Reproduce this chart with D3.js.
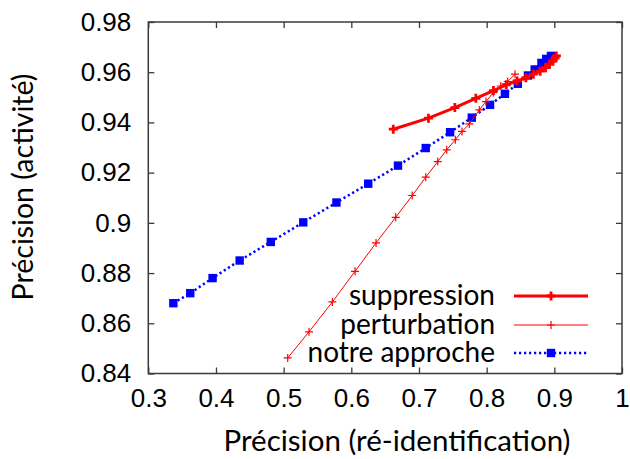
<!DOCTYPE html>
<html>
<head>
<meta charset="utf-8">
<script src="https://cdn.jsdelivr.net/npm/d3@7"></script>
<style>
  body { margin: 0; background: #fff; }
  .tick text { font-family: "Liberation Sans", Arial, sans-serif; }
</style>
</head>
<body>
<div id="chart"></div>
<script>
//Data
var suppressionX = [0.662, 0.714, 0.753, 0.784, 0.810, 0.829, 0.845, 0.858, 0.869, 0.879, 0.887, 0.893, 0.898, 0.901, 0.903];
var suppressionY = [0.9373, 0.9417, 0.9459, 0.9496, 0.9527, 0.9550, 0.9565, 0.9578, 0.9592, 0.9604, 0.9618, 0.9632, 0.9645, 0.9656, 0.9665];

var perturbationX = [0.506, 0.5375, 0.572, 0.6055, 0.6365, 0.6656, 0.690, 0.710, 0.7277, 0.741, 0.7537, 0.7636, 0.7744, 0.7891, 0.799, 0.8098, 0.8208, 0.8311, 0.8419];
var perturbationY = [0.8462, 0.8566, 0.8685, 0.8807, 0.892, 0.9022, 0.9109, 0.9182, 0.9244, 0.9291, 0.9331, 0.9364, 0.9394, 0.945, 0.9483, 0.9519, 0.9545, 0.9563, 0.9592];

var approcheX = [0.337, 0.362, 0.395, 0.435, 0.481, 0.529, 0.578, 0.625, 0.669, 0.710, 0.746, 0.778, 0.805, 0.827, 0.846, 0.861, 0.871, 0.881, 0.888, 0.895];
var approcheY = [0.868, 0.872, 0.878, 0.885, 0.8924, 0.9002, 0.9081, 0.9156, 0.9228, 0.9298, 0.9361, 0.9419, 0.947, 0.9514, 0.9554, 0.9587, 0.9611, 0.9637, 0.9653, 0.9665];

var xTicks = [0.3, 0.4, 0.5, 0.6, 0.7, 0.8, 0.9, 1];
var yTicks = [0.84, 0.86, 0.88, 0.9, 0.92, 0.94, 0.96, 0.98];

var seriesNames = ["suppression", "perturbation", "notre approche"];

//Create chart space
var svgWidth = 630;
var svgHeight = 459;

var margin = {
    top: 22,
    right: 8,
    bottom: 85.5,
    left: 148.3
};

var width = svgWidth - margin.left - margin.right;
var height = svgHeight - margin.top - margin.bottom;

var svg = d3.select("#chart")
    .append("svg")
    .attr("width", svgWidth)
    .attr("height", svgHeight);

var chartGroup = svg.append("g")
    .attr("transform", `translate(${margin.left}, ${margin.top})`);

//Scales
var xScale = d3.scaleLinear().domain([0.3, 1]).range([0, width]);
var yScale = d3.scaleLinear().domain([0.84, 0.98]).range([height, 0]);

function pairs(xs, ys) {
    return xs.map((x, i) => [x, ys[i]]);
}

var series = [
    { name: seriesNames[0], data: pairs(suppressionX, suppressionY), color: "#ff0000", lw: 3, dash: null, marker: "plus", msize: 4.5, mlw: 2.8 },
    { name: seriesNames[1], data: pairs(perturbationX, perturbationY), color: "#ff0000", lw: 1, dash: null, marker: "plus", msize: 4, mlw: 1.2 },
    { name: seriesNames[2], data: pairs(approcheX, approcheY), color: "#0000ff", lw: 2.5, dash: "2.2,2.8", marker: "square", msize: 4.2, mlw: 0 }
];

//Axes, ticks inward on all four sides
var axisColor = "#3a3a3a";
function styleAxis(g) {
    g.select(".domain").remove();
    g.selectAll(".tick line").attr("stroke", axisColor).attr("stroke-width", 1.3);
    g.selectAll(".tick text").attr("fill", "#000").attr("font-size", 26);
}

chartGroup.append("g")
    .attr("transform", `translate(0, ${height})`)
    .call(d3.axisBottom(xScale).tickValues(xTicks).tickFormat(d3.format("")).tickSizeInner(-6).tickPadding(15))
    .call(styleAxis);

chartGroup.append("g")
    .call(d3.axisLeft(yScale).tickValues(yTicks).tickFormat(d3.format("")).tickSizeInner(-6).tickPadding(17))
    .call(styleAxis);

chartGroup.append("g")
    .call(d3.axisTop(xScale).tickValues(xTicks).tickFormat("").tickSizeInner(-6))
    .call(styleAxis);

chartGroup.append("g")
    .attr("transform", `translate(${width}, 0)`)
    .call(d3.axisRight(yScale).tickValues(yTicks).tickFormat("").tickSizeInner(-6))
    .call(styleAxis);

//Frame
chartGroup.append("rect")
    .attr("width", width)
    .attr("height", height)
    .attr("fill", "none")
    .attr("stroke", axisColor)
    .attr("stroke-width", 1.5);

//Markers
function drawMarker(g, s, cx, cy) {
    if (s.marker === "plus") {
        g.append("path")
            .attr("d", `M${cx - s.msize},${cy}H${cx + s.msize}M${cx},${cy - s.msize}V${cy + s.msize}`)
            .attr("stroke", s.color)
            .attr("stroke-width", s.mlw)
            .attr("fill", "none");
    } else {
        g.append("rect")
            .attr("x", cx - s.msize)
            .attr("y", cy - s.msize)
            .attr("width", s.msize * 2)
            .attr("height", s.msize * 2)
            .attr("fill", s.color);
    }
}

var line = d3.line()
    .x(d => xScale(d[0]))
    .y(d => yScale(d[1]));

//Draw series (last one first so red stays on top like the original)
[2, 1, 0].forEach(function(i) {
    var s = series[i];
    var g = chartGroup.append("g");
    g.append("path")
        .datum(s.data)
        .attr("d", line)
        .attr("fill", "none")
        .attr("stroke", s.color)
        .attr("stroke-width", s.lw)
        .attr("stroke-dasharray", s.dash)
        .attr("stroke-linejoin", "round");
    s.data.forEach(d => drawMarker(g, s, xScale(d[0]), yScale(d[1])));
});

//Legend
var legendRows = [296, 325, 353];
var legend = svg.append("g");
series.forEach(function(s, i) {
    var y = legendRows[i];
    legend.append("text")
        .attr("x", 495)
        .attr("y", y + 9)
        .attr("text-anchor", "end")
        .attr("font-family", "Lato, sans-serif")
        .attr("font-size", 28)
        .text(s.name);
    legend.append("line")
        .attr("x1", 514).attr("x2", 588)
        .attr("y1", y).attr("y2", y)
        .attr("stroke", s.color)
        .attr("stroke-width", s.lw)
        .attr("stroke-dasharray", s.dash);
    drawMarker(legend, s, 551, y);
});

//Axis labels
svg.append("text")
    .attr("transform", "translate(33, 187) rotate(-90)")
    .attr("text-anchor", "middle")
    .attr("font-family", "Lato, sans-serif")
    .attr("font-size", 28.5)
    .text("Précision (activité)");

svg.append("text")
    .attr("x", 397)
    .attr("y", 451)
    .attr("text-anchor", "middle")
    .attr("font-family", "Lato, sans-serif")
    .attr("font-size", 29.5)
    .text("Précision (ré-identification)");
</script>
</body>
</html>
